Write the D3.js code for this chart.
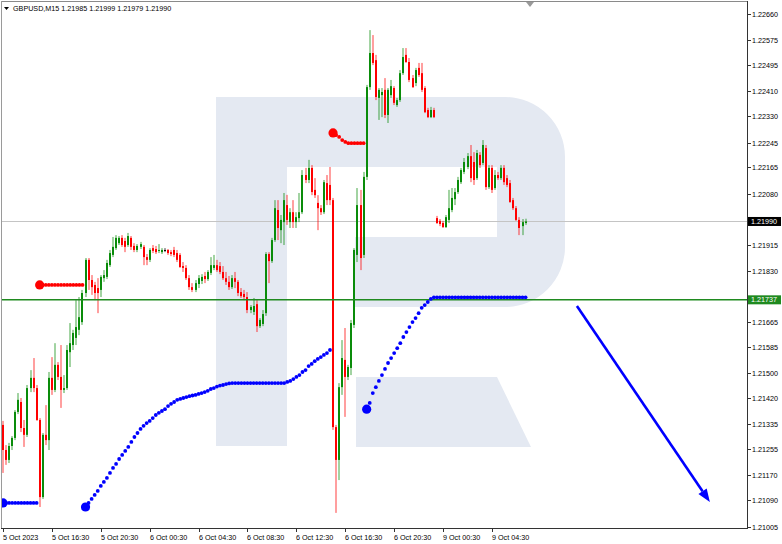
<!DOCTYPE html>
<html><head><meta charset="utf-8">
<script src="https://cdn.jsdelivr.net/npm/d3@7"></script>
<style>
html,body{margin:0;padding:0;background:#fff;}
svg{display:block;font-family:"Liberation Sans",Arial,sans-serif;}
</style></head><body>
<svg id="chart" width="782" height="544"></svg>
<script>
const symbol = "GBPUSD,M15";
const opens = [1.21333,1.21252,1.21220,1.21265,1.21291,1.21375,1.21407,1.21323,1.21301,1.21452,1.21485,1.21452,1.21349,1.21100,1.21301,1.21284,1.21485,1.21446,1.21527,1.21488,1.21446,1.21452,1.21568,1.21591,1.21614,1.21640,1.21665,1.21759,1.21866,1.21801,1.21785,1.21775,1.21769,1.21807,1.21811,1.21849,1.21882,1.21904,1.21920,1.21937,1.21927,1.21914,1.21937,1.21911,1.21898,1.21908,1.21908,1.21875,1.21866,1.21904,1.21901,1.21895,1.21891,1.21898,1.21898,1.21891,1.21898,1.21888,1.21882,1.21846,1.21840,1.21807,1.21778,1.21769,1.21788,1.21798,1.21814,1.21804,1.21824,1.21840,1.21849,1.21846,1.21827,1.21807,1.21795,1.21778,1.21807,1.21795,1.21762,1.21756,1.21746,1.21704,1.21698,1.21723,1.21652,1.21659,1.21694,1.21885,1.21862,1.21930,1.22027,1.21962,1.21988,1.22043,1.21988,1.22020,1.21988,1.22001,1.22020,1.22140,1.22124,1.22163,1.22092,1.22050,1.22033,1.22020,1.22114,1.22108,1.22059,1.21326,1.21220,1.21455,1.21543,1.21488,1.21517,1.21656,1.21882,1.22043,1.21882,1.22134,1.22424,1.22534,1.22511,1.22389,1.22398,1.22415,1.22334,1.22398,1.22421,1.22366,1.22382,1.22469,1.22528,1.22505,1.22453,1.22437,1.22486,1.22469,1.22421,1.22350,1.22327,1.22350,1.22001,1.21992,1.21985,1.21972,1.21995,1.22027,1.22062,1.22085,1.22117,1.22150,1.22166,1.22201,1.22182,1.22130,1.22205,1.22179,1.22227,1.22101,1.22163,1.22098,1.22140,1.22130,1.22163,1.22130,1.22114,1.22059,1.22033,1.21995,1.21975,1.21985];
const highs = [1.21346,1.21268,1.21275,1.21297,1.21381,1.21436,1.21420,1.21349,1.21462,1.21510,1.21549,1.21462,1.21355,1.21307,1.21397,1.21504,1.21552,1.21597,1.21536,1.21591,1.21494,1.21591,1.21662,1.21640,1.21736,1.21746,1.21769,1.21872,1.21872,1.21817,1.21795,1.21807,1.21817,1.21833,1.21866,1.21898,1.21940,1.21946,1.21943,1.21946,1.21937,1.21953,1.21943,1.21920,1.21917,1.21924,1.21914,1.21885,1.21904,1.21914,1.21911,1.21917,1.21904,1.21904,1.21901,1.21898,1.21908,1.21898,1.21888,1.21859,1.21849,1.21817,1.21791,1.21801,1.21817,1.21820,1.21827,1.21833,1.21875,1.21882,1.21866,1.21859,1.21846,1.21827,1.21814,1.21817,1.21827,1.21801,1.21775,1.21769,1.21762,1.21720,1.21743,1.21736,1.21678,1.21704,1.21891,1.21891,1.21937,1.22059,1.22059,1.22011,1.22082,1.22076,1.22033,1.22059,1.22020,1.22082,1.22156,1.22163,1.22189,1.22172,1.22130,1.22075,1.22043,1.22124,1.22140,1.22166,1.22066,1.21333,1.21468,1.21607,1.21646,1.21527,1.21672,1.21904,1.22098,1.22092,1.22150,1.22431,1.22608,1.22592,1.22528,1.22421,1.22421,1.22453,1.22421,1.22447,1.22427,1.22389,1.22479,1.22550,1.22550,1.22518,1.22463,1.22486,1.22502,1.22502,1.22427,1.22357,1.22360,1.22357,1.22008,1.21998,1.21992,1.22011,1.22092,1.22098,1.22098,1.22134,1.22163,1.22195,1.22211,1.22237,1.22214,1.22221,1.22214,1.22253,1.22237,1.22172,1.22172,1.22156,1.22150,1.22172,1.22172,1.22140,1.22124,1.22066,1.22040,1.22004,1.21998,1.21999];
const lows = [1.21178,1.21204,1.21210,1.21252,1.21284,1.21368,1.21310,1.21262,1.21294,1.21439,1.21439,1.21346,1.21068,1.21094,1.21268,1.21252,1.21430,1.21439,1.21478,1.21388,1.21436,1.21446,1.21520,1.21575,1.21591,1.21623,1.21656,1.21746,1.21769,1.21753,1.21736,1.21694,1.21746,1.21795,1.21804,1.21843,1.21875,1.21898,1.21914,1.21908,1.21891,1.21908,1.21898,1.21891,1.21891,1.21901,1.21849,1.21849,1.21859,1.21888,1.21885,1.21888,1.21885,1.21891,1.21882,1.21878,1.21875,1.21859,1.21840,1.21827,1.21801,1.21769,1.21762,1.21762,1.21775,1.21788,1.21791,1.21798,1.21817,1.21833,1.21827,1.21820,1.21801,1.21785,1.21769,1.21772,1.21775,1.21749,1.21743,1.21736,1.21694,1.21694,1.21688,1.21633,1.21646,1.21652,1.21685,1.21791,1.21856,1.21924,1.21930,1.21920,1.21914,1.21979,1.21969,1.21969,1.21969,1.21988,1.22014,1.22114,1.22114,1.22075,1.22066,1.21962,1.22011,1.22014,1.22043,1.22043,1.21317,1.21049,1.21155,1.21430,1.21359,1.21478,1.21494,1.21646,1.21859,1.21833,1.21872,1.22124,1.22415,1.22495,1.22382,1.22318,1.22327,1.22324,1.22308,1.22389,1.22366,1.22360,1.22376,1.22463,1.22502,1.22440,1.22421,1.22427,1.22457,1.22408,1.22340,1.22324,1.22324,1.22324,1.21982,1.21975,1.21969,1.21969,1.21985,1.22020,1.22043,1.22079,1.22111,1.22143,1.22159,1.22117,1.22108,1.22124,1.22163,1.22172,1.22092,1.22095,1.22082,1.22092,1.22124,1.22124,1.22108,1.22101,1.22050,1.22027,1.21992,1.21946,1.21946,1.21979];
const closes = [1.21252,1.21220,1.21265,1.21291,1.21375,1.21414,1.21323,1.21301,1.21452,1.21485,1.21452,1.21349,1.21100,1.21301,1.21284,1.21485,1.21446,1.21527,1.21488,1.21446,1.21452,1.21575,1.21597,1.21630,1.21649,1.21681,1.21759,1.21866,1.21801,1.21778,1.21759,1.21759,1.21811,1.21817,1.21856,1.21888,1.21908,1.21937,1.21937,1.21914,1.21908,1.21943,1.21908,1.21898,1.21911,1.21917,1.21875,1.21866,1.21898,1.21895,1.21891,1.21898,1.21898,1.21898,1.21888,1.21885,1.21882,1.21866,1.21843,1.21840,1.21807,1.21778,1.21769,1.21791,1.21807,1.21811,1.21804,1.21827,1.21849,1.21849,1.21833,1.21827,1.21807,1.21795,1.21778,1.21807,1.21795,1.21759,1.21749,1.21746,1.21704,1.21714,1.21717,1.21652,1.21672,1.21691,1.21885,1.21862,1.21930,1.22033,1.21969,1.21995,1.22059,1.21995,1.22020,1.21988,1.22004,1.22020,1.22140,1.22124,1.22163,1.22085,1.22075,1.22033,1.22020,1.22117,1.22059,1.22059,1.21326,1.21220,1.21455,1.21549,1.21488,1.21520,1.21662,1.21898,1.22043,1.21872,1.22134,1.22424,1.22534,1.22502,1.22392,1.22415,1.22408,1.22334,1.22415,1.22427,1.22373,1.22382,1.22469,1.22521,1.22505,1.22447,1.22424,1.22479,1.22463,1.22415,1.22343,1.22327,1.22350,1.22327,1.21985,1.21982,1.21972,1.22004,1.22033,1.22066,1.22085,1.22124,1.22156,1.22182,1.22201,1.22130,1.22124,1.22211,1.22172,1.22237,1.22101,1.22163,1.22092,1.22140,1.22130,1.22163,1.22117,1.22108,1.22053,1.22033,1.21995,1.21969,1.21988,1.21990];

// trailing-stop dots: segments start bar, colour, values
const dotStarts = [0, 12, 27, 108, 119];
const dotColors = ["blue", "red", "blue", "red", "blue"];
const dotsBlueA = [1.21081,1.21081,1.21081,1.21081,1.21081,1.21081,1.21081,1.21081,1.21081,1.21081,1.21081,1.21081];
const dotsRedA = [1.21785,1.21785,1.21785,1.21785,1.21785,1.21785,1.21785,1.21785,1.21785,1.21785,1.21785,1.21785,1.21785,1.21785,1.21785];
const dotsBlueB = [1.21068,1.21081,1.21094,1.21107,1.21120,1.21136,1.21149,1.21162,1.21178,1.21194,1.21207,1.21223,1.21236,1.21249,1.21262,1.21278,1.21294,1.21307,1.21320,1.21330,1.21339,1.21346,1.21355,1.21365,1.21372,1.21378,1.21384,1.21394,1.21401,1.21407,1.21414,1.21417,1.21420,1.21423,1.21426,1.21428,1.21430,1.21433,1.21436,1.21439,1.21443,1.21449,1.21452,1.21457,1.21460,1.21462,1.21465,1.21467,1.21468,1.21468,1.21468,1.21468,1.21468,1.21468,1.21468,1.21468,1.21468,1.21468,1.21468,1.21468,1.21468,1.21468,1.21468,1.21468,1.21468,1.21468,1.21472,1.21475,1.21481,1.21488,1.21494,1.21504,1.21510,1.21523,1.21530,1.21539,1.21546,1.21552,1.21559,1.21565,1.21575];
const dotsRedB = [1.22276,1.22269,1.22263,1.22253,1.22247,1.22243,1.22243,1.22243,1.22243,1.22243,1.22243];
const dotsBlueC = [1.21384,1.21404,1.21436,1.21455,1.21475,1.21494,1.21514,1.21533,1.21549,1.21565,1.21581,1.21597,1.21617,1.21633,1.21649,1.21665,1.21678,1.21694,1.21711,1.21720,1.21730,1.21740,1.21745,1.21745,1.21745,1.21745,1.21745,1.21745,1.21745,1.21745,1.21745,1.21745,1.21745,1.21745,1.21745,1.21745,1.21745,1.21745,1.21745,1.21745,1.21745,1.21745,1.21745,1.21745,1.21745,1.21745,1.21745,1.21745,1.21745,1.21745,1.21745,1.21745,1.21745];
const dotSegments = [dotsBlueA, dotsRedA, dotsBlueB, dotsRedB, dotsBlueC];

const supportLevel = 1.21737;
const yTicks = [1.22660,1.22575,1.22495,1.22410,1.22330,1.22245,1.22165,1.22080,1.21995,1.21915,1.21830,1.21750,1.21665,1.21585,1.21500,1.21420,1.21335,1.21255,1.21170,1.21090,1.21005];
const xTickBars = [0,16,32,48,64,80,96,112,128,144,160];
const xTickLabels = ["5 Oct 2023","5 Oct 16:30","5 Oct 20:30","6 Oct 00:30","6 Oct 04:30","6 Oct 08:30","6 Oct 12:30","6 Oct 16:30","6 Oct 20:30","9 Oct 00:30","9 Oct 04:30"];
const arrowFrom = {bar: 187.8, price: 1.21717};
const arrowTo = {bar: 231.3, price: 1.21084};

const svg = d3.select("#chart");
const P = {left: 2, right: 747, top: 2, bottom: 528};
const n = opens.length;
const x = d3.scaleLinear().domain([0, n - 1]).range([3, 3 + (n - 1) * 3.056]);
const y = d3.scaleLinear().domain([1.21005, 1.22660]).range([526.5, 14]);
const last = closes[n-1];

svg.append("defs").append("clipPath").attr("id","clip")
  .append("rect").attr("x",P.left).attr("y",P.top).attr("width",P.right-P.left).attr("height",P.bottom-P.top);

// watermark logo
const wm = svg.append("g").attr("fill","#e4e9f2");
wm.append("path").attr("d","M216,97 H505 A60,60 0 0 1 565,157 V247 A60,60 0 0 1 505,307 H355 V237 H497 V167 H287 V446 H216 Z");
wm.append("path").attr("d","M356,377 H497 L531,447 H356 Z");

const g = svg.append("g").attr("clip-path","url(#clip)");

// current price line
g.append("line").attr("x1",P.left).attr("x2",P.right)
  .attr("y1",Math.round(y(last))+0.5).attr("y2",Math.round(y(last))+0.5)
  .attr("stroke","#c4c4c4").attr("stroke-width",1);

// candles
const bars = d3.range(n).map(i => ({i, o: opens[i], h: highs[i], l: lows[i], c: closes[i]}));
const col = d => d.c > d.o ? "#0a8c0a" : (d.c < d.o ? "#ff0000" : "#000000");
const cg = g.append("g");
cg.selectAll("rect.wick").data(bars).join("rect").attr("class","wick")
  .attr("x", d => Math.round(x(d.i)) - 0.5).attr("width", 1)
  .attr("y", d => y(d.h)).attr("height", d => Math.max(1, y(d.l) - y(d.h)))
  .attr("fill", col).attr("opacity", 0.75);
cg.selectAll("rect.body").data(bars).join("rect").attr("class","body")
  .attr("x", d => Math.round(x(d.i)) - 1).attr("width", 2)
  .attr("y", d => Math.min(y(d.o), y(d.c)))
  .attr("height", d => Math.max(1, Math.abs(y(d.o) - y(d.c))))
  .attr("fill", col);

// support line
g.append("line").attr("x1",P.left).attr("x2",P.right)
  .attr("y1",y(supportLevel)).attr("y2",y(supportLevel))
  .attr("stroke","#1f8a1f").attr("stroke-width",1.6);

// dots
const dg = g.append("g");
dotSegments.forEach((vals, s) => {
  const c = dotColors[s] === "blue" ? "#0000ff" : "#ff0000";
  const pts = vals.map((v, k) => ({i: dotStarts[s] + k, v}));
  dg.append("g").selectAll("circle").data(pts).join("circle")
    .attr("cx", d => x(d.i)).attr("cy", d => y(d.v))
    .attr("r", (d, k) => k === 0 ? 4.6 : 1.9)
    .attr("fill", c);
});

// arrow
const ax1 = x(arrowFrom.bar), ay1 = y(arrowFrom.price), ax2 = x(arrowTo.bar), ay2 = y(arrowTo.price);
const ang = Math.atan2(ay2 - ay1, ax2 - ax1);
const hl = 13, hw = 5;
const bx = ax2 - hl*Math.cos(ang), by = ay2 - hl*Math.sin(ang);
g.append("line").attr("x1",ax1).attr("y1",ay1).attr("x2",bx).attr("y2",by)
  .attr("stroke","#0000ff").attr("stroke-width",2.6);
g.append("path").attr("d",`M${ax2},${ay2} L${bx - hw*Math.sin(ang)},${by + hw*Math.cos(ang)} L${bx + hw*Math.sin(ang)},${by - hw*Math.cos(ang)} Z`)
  .attr("fill","#0000ff");

// frame
svg.append("line").attr("x1",1).attr("x2",P.right).attr("y1",1.5).attr("y2",1.5).attr("stroke","#8a8a8a");
svg.append("line").attr("x1",1.5).attr("x2",1.5).attr("y1",1).attr("y2",P.bottom).attr("stroke","#9a9a9a");
svg.append("line").attr("x1",P.right+0.5).attr("x2",P.right+0.5).attr("y1",1).attr("y2",P.bottom+1).attr("stroke","#333");
svg.append("line").attr("x1",1).attr("x2",P.right+1).attr("y1",P.bottom+0.5).attr("y2",P.bottom+0.5).attr("stroke","#333");
svg.append("path").attr("d","M526,2 L534,2 L530,7 Z").attr("fill","#9a9a9a");

// y axis (ticks whose text sits under a price label keep only their tick mark)
const ya = svg.append("g").attr("font-size","7.2px").attr("fill","#000");
const covered = [last, supportLevel];
yTicks.forEach(t => {
  const yy = Math.round(y(t)) + 0.5;
  ya.append("line").attr("x1",P.right+1).attr("x2",P.right+4).attr("y1",yy).attr("y2",yy).attr("stroke","#333");
  const hidden = covered.some(v => Math.abs(y(v) - y(t)) < 8);
  if (!hidden) ya.append("text").attr("x",752).attr("y",yy).attr("dy","0.35em").text(t.toFixed(5));
});
// price labels
function priceLabel(v, bg) {
  const yy = y(v);
  svg.append("rect").attr("x",P.right+1).attr("y",yy-4.5).attr("width",33).attr("height",9).attr("fill",bg);
  svg.append("text").attr("x",751).attr("y",yy).attr("dy","0.35em").attr("font-size","7.2px").attr("fill","#fff").text(v.toFixed(5));
}
priceLabel(supportLevel, "#1f8a1f");
priceLabel(last, "#000");

// x axis
const xa = svg.append("g").attr("font-size","7.2px").attr("fill","#000");
xTickBars.forEach((b, k) => {
  const xx = Math.round(x(b)) + 0.5;
  xa.append("line").attr("x1",xx).attr("x2",xx).attr("y1",P.bottom+1).attr("y2",P.bottom+4).attr("stroke","#333");
  xa.append("text").attr("x",xx-0.5).attr("y",540).text(xTickLabels[k]);
});

// header
svg.append("path").attr("d","M4,7 L9,7 L6.5,10 Z").attr("fill","#000");
svg.append("text").attr("x",13).attr("y",11).attr("font-size","7.2px").attr("fill","#000")
  .text(`${symbol}  ${opens[n-1].toFixed(5)} ${highs[n-1].toFixed(5)} ${lows[n-1].toFixed(5)} ${closes[n-1].toFixed(5)}`);
</script>
</body></html>
